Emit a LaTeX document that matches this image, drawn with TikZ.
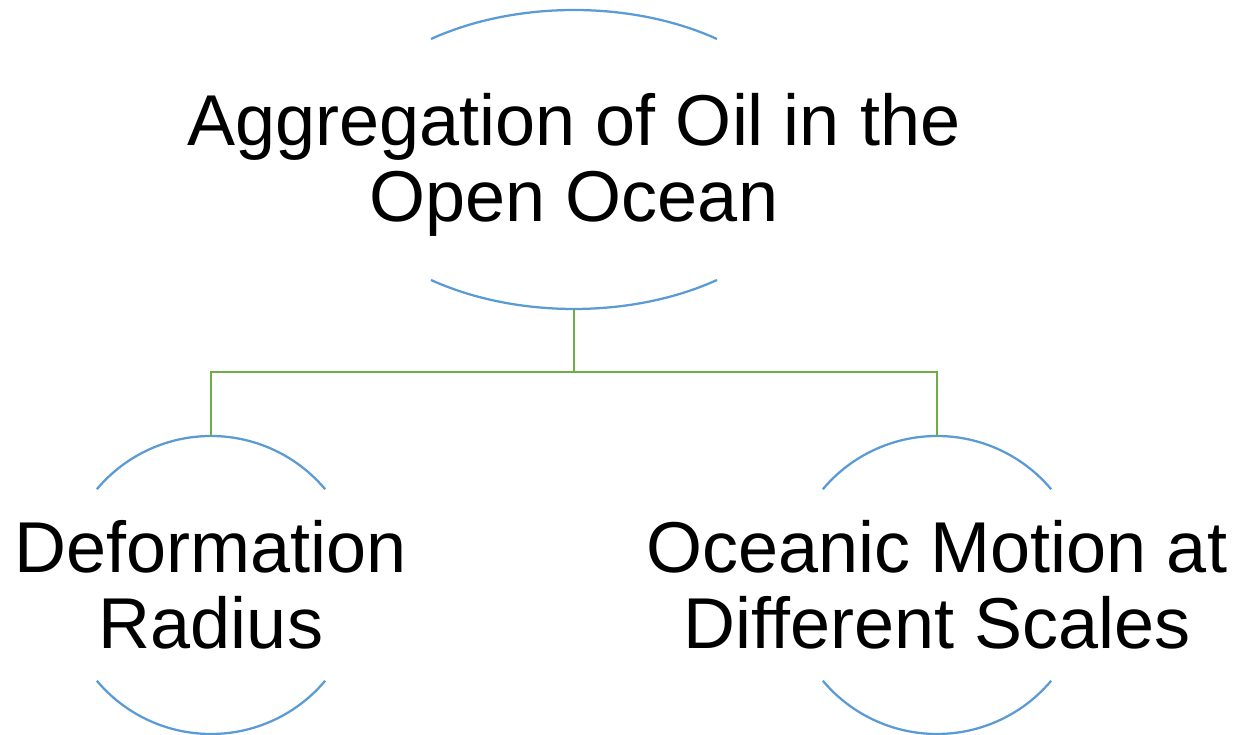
\documentclass[tikz,border=0pt]{standalone}
\usepackage{fontspec}
\setmainfont{Liberation Sans}
\usetikzlibrary{shapes.geometric}
\definecolor{arcblue}{HTML}{5B9BD5}
\definecolor{linkgreen}{HTML}{70AD47}

\begin{document}
\begin{tikzpicture}[x=0.75pt,y=0.75pt,
    caption/.style={inner sep=0,align=center,font=\fontsize{54}{57}\selectfont},
    rim/.style={arcblue,line width=1.7pt},
    link/.style={linkgreen,line width=1.7pt}]
      \useasboundingbox (0,0) rectangle (1239,735);
      % hidden outlines, only their arcs are drawn
      \node[ellipse,minimum width=362.4pt,minimum height=224.25pt,inner sep=0,outer sep=0] (agg)   at (574,575.5) {};
      \node[circle,minimum size=223.5pt,inner sep=0,outer sep=0]                        (def)   at (211,150)   {};
      \node[circle,minimum size=223.5pt,inner sep=0,outer sep=0]                        (ocean) at (937,150)   {};

      \node[caption] (aggtext)   at ([yshift=-4]agg.center) {Aggregation of Oil in the\\Open Ocean};
      \node[caption] (deftext)   at (def.center)            {Deformation\\Radius};
      \node[caption] (oceantext) at (ocean.center)          {Oceanic Motion at\\Different Scales};

      \draw[rim] (agg.center) ++(53.7:241.6 and 149.5)
      arc[start angle=53.7,end angle=126.3,x radius=241.6,y radius=149.5];
      \draw[rim] (agg.center) ++(-53.7:241.6 and 149.5)
      arc[start angle=-53.7,end angle=-126.3,x radius=241.6,y radius=149.5];
      \foreach \n in {def,ocean}
      {
        \draw[rim] (\n.center) ++(40:149)  arc[start angle=40,end angle=140,radius=149];
        \draw[rim] (\n.center) ++(-40:149) arc[start angle=-40,end angle=-140,radius=149];
      }

      \draw[link] (agg.south) -- ++(0,-63) coordinate (fork) -| (def.north);
      \draw[link] (fork) -| (ocean.north);
    \end{tikzpicture}
\end{document}
